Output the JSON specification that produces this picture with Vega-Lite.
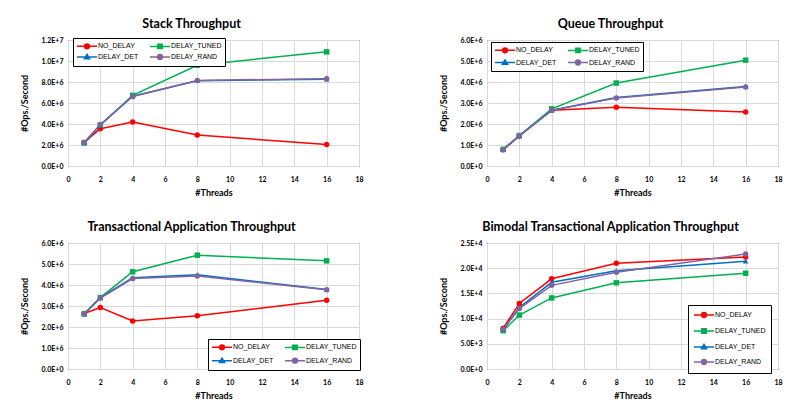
{
  "$schema": "https://vega.github.io/schema/vega-lite/v6.json",
  "padding": {"left": 19, "top": 17, "right": 0, "bottom": 0},
  "background": "white",
  "datasets": {
    "d": [
      {"panel": "Stack", "threads": 1, "series": "NO_DELAY", "value": 2250000},
      {"panel": "Stack", "threads": 2, "series": "NO_DELAY", "value": 3550000},
      {"panel": "Stack", "threads": 4, "series": "NO_DELAY", "value": 4200000},
      {"panel": "Stack", "threads": 8, "series": "NO_DELAY", "value": 2950000},
      {"panel": "Stack", "threads": 16, "series": "NO_DELAY", "value": 2050000},
      {"panel": "Stack", "threads": 1, "series": "DELAY_TUNED", "value": 2200000},
      {"panel": "Stack", "threads": 2, "series": "DELAY_TUNED", "value": 3900000},
      {"panel": "Stack", "threads": 4, "series": "DELAY_TUNED", "value": 6730000},
      {"panel": "Stack", "threads": 8, "series": "DELAY_TUNED", "value": 9600000},
      {"panel": "Stack", "threads": 16, "series": "DELAY_TUNED", "value": 10870000},
      {"panel": "Stack", "threads": 1, "series": "DELAY_DET", "value": 2200000},
      {"panel": "Stack", "threads": 2, "series": "DELAY_DET", "value": 3900000},
      {"panel": "Stack", "threads": 4, "series": "DELAY_DET", "value": 6650000},
      {"panel": "Stack", "threads": 8, "series": "DELAY_DET", "value": 8120000},
      {"panel": "Stack", "threads": 16, "series": "DELAY_DET", "value": 8270000},
      {"panel": "Stack", "threads": 1, "series": "DELAY_RAND", "value": 2250000},
      {"panel": "Stack", "threads": 2, "series": "DELAY_RAND", "value": 3950000},
      {"panel": "Stack", "threads": 4, "series": "DELAY_RAND", "value": 6620000},
      {"panel": "Stack", "threads": 8, "series": "DELAY_RAND", "value": 8150000},
      {"panel": "Stack", "threads": 16, "series": "DELAY_RAND", "value": 8320000},

      {"panel": "Queue", "threads": 1, "series": "NO_DELAY", "value": 770000},
      {"panel": "Queue", "threads": 2, "series": "NO_DELAY", "value": 1430000},
      {"panel": "Queue", "threads": 4, "series": "NO_DELAY", "value": 2660000},
      {"panel": "Queue", "threads": 8, "series": "NO_DELAY", "value": 2800000},
      {"panel": "Queue", "threads": 16, "series": "NO_DELAY", "value": 2570000},
      {"panel": "Queue", "threads": 1, "series": "DELAY_TUNED", "value": 790000},
      {"panel": "Queue", "threads": 2, "series": "DELAY_TUNED", "value": 1450000},
      {"panel": "Queue", "threads": 4, "series": "DELAY_TUNED", "value": 2720000},
      {"panel": "Queue", "threads": 8, "series": "DELAY_TUNED", "value": 3950000},
      {"panel": "Queue", "threads": 16, "series": "DELAY_TUNED", "value": 5040000},
      {"panel": "Queue", "threads": 1, "series": "DELAY_DET", "value": 780000},
      {"panel": "Queue", "threads": 2, "series": "DELAY_DET", "value": 1440000},
      {"panel": "Queue", "threads": 4, "series": "DELAY_DET", "value": 2660000},
      {"panel": "Queue", "threads": 8, "series": "DELAY_DET", "value": 3260000},
      {"panel": "Queue", "threads": 16, "series": "DELAY_DET", "value": 3790000},
      {"panel": "Queue", "threads": 1, "series": "DELAY_RAND", "value": 780000},
      {"panel": "Queue", "threads": 2, "series": "DELAY_RAND", "value": 1440000},
      {"panel": "Queue", "threads": 4, "series": "DELAY_RAND", "value": 2650000},
      {"panel": "Queue", "threads": 8, "series": "DELAY_RAND", "value": 3240000},
      {"panel": "Queue", "threads": 16, "series": "DELAY_RAND", "value": 3760000},

      {"panel": "Trans", "threads": 1, "series": "NO_DELAY", "value": 2640000},
      {"panel": "Trans", "threads": 2, "series": "NO_DELAY", "value": 2930000},
      {"panel": "Trans", "threads": 4, "series": "NO_DELAY", "value": 2290000},
      {"panel": "Trans", "threads": 8, "series": "NO_DELAY", "value": 2540000},
      {"panel": "Trans", "threads": 16, "series": "NO_DELAY", "value": 3270000},
      {"panel": "Trans", "threads": 1, "series": "DELAY_TUNED", "value": 2620000},
      {"panel": "Trans", "threads": 2, "series": "DELAY_TUNED", "value": 3400000},
      {"panel": "Trans", "threads": 4, "series": "DELAY_TUNED", "value": 4630000},
      {"panel": "Trans", "threads": 8, "series": "DELAY_TUNED", "value": 5420000},
      {"panel": "Trans", "threads": 16, "series": "DELAY_TUNED", "value": 5150000},
      {"panel": "Trans", "threads": 1, "series": "DELAY_DET", "value": 2620000},
      {"panel": "Trans", "threads": 2, "series": "DELAY_DET", "value": 3400000},
      {"panel": "Trans", "threads": 4, "series": "DELAY_DET", "value": 4340000},
      {"panel": "Trans", "threads": 8, "series": "DELAY_DET", "value": 4490000},
      {"panel": "Trans", "threads": 16, "series": "DELAY_DET", "value": 3780000},
      {"panel": "Trans", "threads": 1, "series": "DELAY_RAND", "value": 2630000},
      {"panel": "Trans", "threads": 2, "series": "DELAY_RAND", "value": 3380000},
      {"panel": "Trans", "threads": 4, "series": "DELAY_RAND", "value": 4310000},
      {"panel": "Trans", "threads": 8, "series": "DELAY_RAND", "value": 4430000},
      {"panel": "Trans", "threads": 16, "series": "DELAY_RAND", "value": 3770000},

      {"panel": "Bimodal", "threads": 1, "series": "NO_DELAY", "value": 8100},
      {"panel": "Bimodal", "threads": 2, "series": "NO_DELAY", "value": 13000},
      {"panel": "Bimodal", "threads": 4, "series": "NO_DELAY", "value": 17900},
      {"panel": "Bimodal", "threads": 8, "series": "NO_DELAY", "value": 21000},
      {"panel": "Bimodal", "threads": 16, "series": "NO_DELAY", "value": 22200},
      {"panel": "Bimodal", "threads": 1, "series": "DELAY_TUNED", "value": 7600},
      {"panel": "Bimodal", "threads": 2, "series": "DELAY_TUNED", "value": 10700},
      {"panel": "Bimodal", "threads": 4, "series": "DELAY_TUNED", "value": 14100},
      {"panel": "Bimodal", "threads": 8, "series": "DELAY_TUNED", "value": 17100},
      {"panel": "Bimodal", "threads": 16, "series": "DELAY_TUNED", "value": 19000},
      {"panel": "Bimodal", "threads": 1, "series": "DELAY_DET", "value": 7800},
      {"panel": "Bimodal", "threads": 2, "series": "DELAY_DET", "value": 12200},
      {"panel": "Bimodal", "threads": 4, "series": "DELAY_DET", "value": 17200},
      {"panel": "Bimodal", "threads": 8, "series": "DELAY_DET", "value": 19500},
      {"panel": "Bimodal", "threads": 16, "series": "DELAY_DET", "value": 21400},
      {"panel": "Bimodal", "threads": 1, "series": "DELAY_RAND", "value": 7900},
      {"panel": "Bimodal", "threads": 2, "series": "DELAY_RAND", "value": 12000},
      {"panel": "Bimodal", "threads": 4, "series": "DELAY_RAND", "value": 16600},
      {"panel": "Bimodal", "threads": 8, "series": "DELAY_RAND", "value": 19200},
      {"panel": "Bimodal", "threads": 16, "series": "DELAY_RAND", "value": 22800}
    ]
  },
  "data": {"name": "d"},
  "columns": 2,
  "spacing": {"row": 22, "column": 74},
  "resolve": {
    "scale": {"x": "independent", "y": "independent", "color": "independent", "shape": "independent"},
    "legend": {"color": "independent", "shape": "independent"}
  },
  "concat": [
    {
      "title": "Stack Throughput",
      "width": 291, "height": 126,
      "transform": [{"filter": "datum.panel == 'Stack'"}],
      "encoding": {
        "x": {"field": "threads", "type": "quantitative", "scale": {"domain": [0, 18], "nice": false}, "axis": {"values": [0, 2, 4, 6, 8, 10, 12, 14, 16, 18], "title": "#Threads"}},
        "y": {"field": "value", "type": "quantitative", "scale": {"domain": [0, 12000000], "nice": false}, "axis": {"values": [0, 2000000, 4000000, 6000000, 8000000, 10000000, 12000000], "title": "#Ops./Second", "labelExpr": "replace(format(datum.value, '.1e'), 'e', 'E')"}}
      },
      "layer": [
        {"mark": {"type": "line", "strokeWidth": 1.5},
         "encoding": {"color": {"field": "series", "type": "nominal", "scale": {"domain": ["NO_DELAY", "DELAY_TUNED", "DELAY_DET", "DELAY_RAND"], "range": ["#FF0000", "#00B050", "#0070C0", "#8064A2"]},
           "legend": {"title": null, "orient": "none", "direction": "horizontal", "legendX": 5, "legendY": -2, "columns": 2, "rowPadding": -2, "columnPadding": 8,
             "encoding": {"symbols": {
               "shape": {"value": {"expr": "datum.value == 'DELAY_TUNED' ? 'M-1,0H4M0.95,-0.55H2.05V0.55H0.95Z' : datum.value == 'DELAY_DET' ? 'M-1,0H4M1.5,-0.65L2.15,0.45H0.85Z' : 'M-1,0H4M0.9,0A0.6,0.6 0 1,0 2.1,0A0.6,0.6 0 1,0 0.9,0Z'"}},
               "fill": {"value": {"expr": "datum.value == 'NO_DELAY' ? '#FF0000' : datum.value == 'DELAY_TUNED' ? '#00B050' : datum.value == 'DELAY_DET' ? '#0070C0' : '#8064A2'"}},
               "stroke": {"value": {"expr": "datum.value == 'NO_DELAY' ? '#FF0000' : datum.value == 'DELAY_TUNED' ? '#00B050' : datum.value == 'DELAY_DET' ? '#0070C0' : '#8064A2'"}}
             }}}}}},
        {"mark": {"type": "point", "filled": true, "opacity": 1, "size": 30},
         "encoding": {
           "color": {"field": "series", "type": "nominal", "scale": {"domain": ["NO_DELAY", "DELAY_TUNED", "DELAY_DET", "DELAY_RAND"], "range": ["#FF0000", "#00B050", "#0070C0", "#8064A2"]}, "legend": null},
           "shape": {"field": "series", "type": "nominal", "scale": {"domain": ["DELAY_RAND", "NO_DELAY", "DELAY_TUNED", "DELAY_DET"], "range": ["circle", "circle", "square", "triangle-up"]}, "legend": null}}}
      ]
    },
    {
      "title": "Queue Throughput",
      "width": 291, "height": 126,
      "transform": [{"filter": "datum.panel == 'Queue'"}],
      "encoding": {
        "x": {"field": "threads", "type": "quantitative", "scale": {"domain": [0, 18], "nice": false}, "axis": {"values": [0, 2, 4, 6, 8, 10, 12, 14, 16, 18], "title": "#Threads"}},
        "y": {"field": "value", "type": "quantitative", "scale": {"domain": [0, 6000000], "nice": false}, "axis": {"values": [0, 1000000, 2000000, 3000000, 4000000, 5000000, 6000000], "title": "#Ops./Second", "labelExpr": "replace(format(datum.value, '.1e'), 'e', 'E')"}}
      },
      "layer": [
        {"mark": {"type": "line", "strokeWidth": 1.5},
         "encoding": {"color": {"field": "series", "type": "nominal", "scale": {"domain": ["NO_DELAY", "DELAY_TUNED", "DELAY_DET", "DELAY_RAND"], "range": ["#FF0000", "#00B050", "#0070C0", "#8064A2"]},
           "legend": {"title": null, "orient": "none", "direction": "horizontal", "legendX": 4, "legendY": 2, "columns": 2, "rowPadding": 0.5, "columnPadding": 8,
             "encoding": {"symbols": {
               "shape": {"value": {"expr": "datum.value == 'DELAY_TUNED' ? 'M-1,0H4M0.95,-0.55H2.05V0.55H0.95Z' : datum.value == 'DELAY_DET' ? 'M-1,0H4M1.5,-0.65L2.15,0.45H0.85Z' : 'M-1,0H4M0.9,0A0.6,0.6 0 1,0 2.1,0A0.6,0.6 0 1,0 0.9,0Z'"}},
               "fill": {"value": {"expr": "datum.value == 'NO_DELAY' ? '#FF0000' : datum.value == 'DELAY_TUNED' ? '#00B050' : datum.value == 'DELAY_DET' ? '#0070C0' : '#8064A2'"}},
               "stroke": {"value": {"expr": "datum.value == 'NO_DELAY' ? '#FF0000' : datum.value == 'DELAY_TUNED' ? '#00B050' : datum.value == 'DELAY_DET' ? '#0070C0' : '#8064A2'"}}
             }}}}}},
        {"mark": {"type": "point", "filled": true, "opacity": 1, "size": 30},
         "encoding": {
           "color": {"field": "series", "type": "nominal", "scale": {"domain": ["NO_DELAY", "DELAY_TUNED", "DELAY_DET", "DELAY_RAND"], "range": ["#FF0000", "#00B050", "#0070C0", "#8064A2"]}, "legend": null},
           "shape": {"field": "series", "type": "nominal", "scale": {"domain": ["DELAY_RAND", "NO_DELAY", "DELAY_TUNED", "DELAY_DET"], "range": ["circle", "circle", "square", "triangle-up"]}, "legend": null}}}
      ]
    },
    {
      "title": "Transactional Application Throughput",
      "width": 291, "height": 126,
      "transform": [{"filter": "datum.panel == 'Trans'"}],
      "encoding": {
        "x": {"field": "threads", "type": "quantitative", "scale": {"domain": [0, 18], "nice": false}, "axis": {"values": [0, 2, 4, 6, 8, 10, 12, 14, 16, 18], "title": "#Threads"}},
        "y": {"field": "value", "type": "quantitative", "scale": {"domain": [0, 6000000], "nice": false}, "axis": {"values": [0, 1000000, 2000000, 3000000, 4000000, 5000000, 6000000], "title": "#Ops./Second", "labelExpr": "replace(format(datum.value, '.1e'), 'e', 'E')"}}
      },
      "layer": [
        {"mark": {"type": "line", "strokeWidth": 1.5},
         "encoding": {"color": {"field": "series", "type": "nominal", "scale": {"domain": ["NO_DELAY", "DELAY_TUNED", "DELAY_DET", "DELAY_RAND"], "range": ["#FF0000", "#00B050", "#0070C0", "#8064A2"]},
           "legend": {"title": null, "orient": "none", "direction": "horizontal", "legendX": 140, "legendY": 96, "columns": 2, "rowPadding": 1.7, "columnPadding": 8,
             "encoding": {"symbols": {
               "shape": {"value": {"expr": "datum.value == 'DELAY_TUNED' ? 'M-1,0H4M0.95,-0.55H2.05V0.55H0.95Z' : datum.value == 'DELAY_DET' ? 'M-1,0H4M1.5,-0.65L2.15,0.45H0.85Z' : 'M-1,0H4M0.9,0A0.6,0.6 0 1,0 2.1,0A0.6,0.6 0 1,0 0.9,0Z'"}},
               "fill": {"value": {"expr": "datum.value == 'NO_DELAY' ? '#FF0000' : datum.value == 'DELAY_TUNED' ? '#00B050' : datum.value == 'DELAY_DET' ? '#0070C0' : '#8064A2'"}},
               "stroke": {"value": {"expr": "datum.value == 'NO_DELAY' ? '#FF0000' : datum.value == 'DELAY_TUNED' ? '#00B050' : datum.value == 'DELAY_DET' ? '#0070C0' : '#8064A2'"}}
             }}}}}},
        {"mark": {"type": "point", "filled": true, "opacity": 1, "size": 30},
         "encoding": {
           "color": {"field": "series", "type": "nominal", "scale": {"domain": ["NO_DELAY", "DELAY_TUNED", "DELAY_DET", "DELAY_RAND"], "range": ["#FF0000", "#00B050", "#0070C0", "#8064A2"]}, "legend": null},
           "shape": {"field": "series", "type": "nominal", "scale": {"domain": ["DELAY_RAND", "NO_DELAY", "DELAY_TUNED", "DELAY_DET"], "range": ["circle", "circle", "square", "triangle-up"]}, "legend": null}}}
      ]
    },
    {
      "title": "Bimodal Transactional Application Throughput",
      "width": 291, "height": 126,
      "transform": [{"filter": "datum.panel == 'Bimodal'"}],
      "encoding": {
        "x": {"field": "threads", "type": "quantitative", "scale": {"domain": [0, 18], "nice": false}, "axis": {"values": [0, 2, 4, 6, 8, 10, 12, 14, 16, 18], "title": "#Threads"}},
        "y": {"field": "value", "type": "quantitative", "scale": {"domain": [0, 25000], "nice": false}, "axis": {"values": [0, 5000, 10000, 15000, 20000, 25000], "title": "#Ops./Second", "labelExpr": "replace(format(datum.value, '.1e'), 'e', 'E')"}}
      },
      "layer": [
        {"mark": {"type": "line", "strokeWidth": 1.5},
         "encoding": {"color": {"field": "series", "type": "nominal", "scale": {"domain": ["NO_DELAY", "DELAY_TUNED", "DELAY_DET", "DELAY_RAND"], "range": ["#FF0000", "#00B050", "#0070C0", "#8064A2"]},
           "legend": {"title": null, "orient": "none", "legendX": 201, "legendY": 62, "columns": 1, "rowPadding": 4, "padding": 5,
             "encoding": {"symbols": {
               "shape": {"value": {"expr": "datum.value == 'DELAY_TUNED' ? 'M-1,0H4M0.95,-0.55H2.05V0.55H0.95Z' : datum.value == 'DELAY_DET' ? 'M-1,0H4M1.5,-0.65L2.15,0.45H0.85Z' : 'M-1,0H4M0.9,0A0.6,0.6 0 1,0 2.1,0A0.6,0.6 0 1,0 0.9,0Z'"}},
               "fill": {"value": {"expr": "datum.value == 'NO_DELAY' ? '#FF0000' : datum.value == 'DELAY_TUNED' ? '#00B050' : datum.value == 'DELAY_DET' ? '#0070C0' : '#8064A2'"}},
               "stroke": {"value": {"expr": "datum.value == 'NO_DELAY' ? '#FF0000' : datum.value == 'DELAY_TUNED' ? '#00B050' : datum.value == 'DELAY_DET' ? '#0070C0' : '#8064A2'"}}
             }}}}}},
        {"mark": {"type": "point", "filled": true, "opacity": 1, "size": 30},
         "encoding": {
           "color": {"field": "series", "type": "nominal", "scale": {"domain": ["NO_DELAY", "DELAY_TUNED", "DELAY_DET", "DELAY_RAND"], "range": ["#FF0000", "#00B050", "#0070C0", "#8064A2"]}, "legend": null},
           "shape": {"field": "series", "type": "nominal", "scale": {"domain": ["DELAY_RAND", "NO_DELAY", "DELAY_TUNED", "DELAY_DET"], "range": ["circle", "circle", "square", "triangle-up"]}, "legend": null}}}
      ]
    }
  ],
  "config": {
    "font": "Lato",
    "view": {"stroke": "black", "strokeWidth": 1},
    "title": {"font": "Lato", "fontSize": 12.5, "fontWeight": "bold", "color": "black", "offset": 6, "anchor": "middle", "frame": "bounds"},
    "axis": {
      "domain": false, "ticks": false, "grid": true, "gridColor": "#D9D9D9", "gridWidth": 1,
      "labelFont": "Lato", "labelFontSize": 7, "labelFontWeight": "bold", "labelColor": "black",
      "titleFont": "Lato", "titleFontSize": 9, "titleFontWeight": "bold", "titleColor": "black"
    },
    "axisX": {"labelPadding": 9, "titlePadding": 6, "labelFlush": false},
    "axisY": {"labelPadding": 5, "titlePadding": 12},
    "legend": {
      "labelFont": "Liberation Sans", "labelFontSize": 7, "labelColor": "black",
      "symbolSize": 64, "symbolStrokeWidth": 1.5, "labelOffset": 12,
      "padding": 3, "strokeColor": "black", "fillColor": "white"
    }
  }
}
